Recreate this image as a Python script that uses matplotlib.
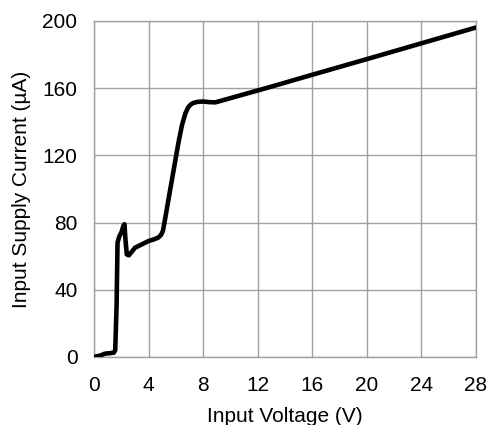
import matplotlib.pyplot as plt

plt.rcParams['font.family'] = ['Liberation Sans', 'DejaVu Sans']

voltage = [0, 0.5, 0.8, 1.2, 1.45, 1.55, 1.65, 1.72, 1.86, 2.0, 2.15, 2.23, 2.3, 2.4,
           2.55, 2.75, 3.0, 3.5, 4.0, 4.4, 4.7, 4.9, 5.05, 5.25, 5.57, 5.94, 6.2,
           6.45, 6.7, 6.9, 7.1, 7.3, 7.6, 8.0, 8.5, 8.9, 12.9, 16, 20, 24, 28]
current = [0, 1, 2, 2.3, 2.6, 4, 30, 68, 72, 74, 78, 79, 70, 61,
           60.5, 62.5, 65, 67, 69, 70, 71, 72.5, 75, 84, 99, 116, 128,
           138, 145, 148.5, 150.3, 151.2, 151.8, 152, 151.6, 151.5, 160.6, 167.9, 177.2, 186.6, 196]

fig = plt.figure(figsize=(4.9, 4.25), dpi=100)
ax = fig.add_axes([0.192, 0.16, 0.779, 0.791])

ax.plot(voltage, current, color='black', linewidth=3.3, solid_joinstyle='round', solid_capstyle='round', zorder=3)

ax.set_xlim(0, 28)
ax.set_ylim(0, 200)
ax.set_xticks(range(0, 29, 4))
ax.set_yticks(range(0, 201, 40))
ax.grid(True, color='#a0a0a0', linewidth=1.0)
for s in ax.spines.values():
    s.set_color('#a0a0a0')
    s.set_linewidth(1.0)
ax.tick_params(axis='x', length=0, labelsize=15, pad=14)
ax.tick_params(axis='y', length=0, labelsize=15, pad=12)
ax.set_xlabel('Input Voltage (V)', fontsize=15, labelpad=8)
ax.set_ylabel('Input Supply Current (µA)', fontsize=15, labelpad=8)

fig.savefig('out.png', dpi=100)
